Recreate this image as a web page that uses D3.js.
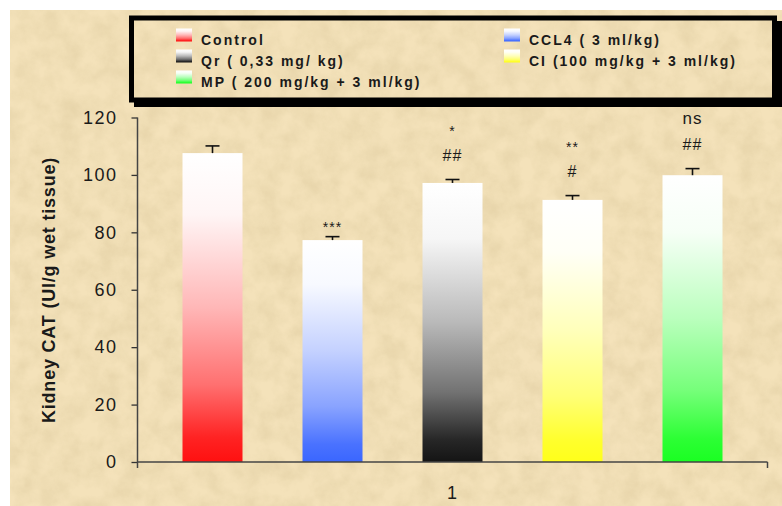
<!DOCTYPE html>
<meta charset="utf-8">
<style>
body { margin: 0; background: #fff; }
text { font-family: Arial, "Liberation Sans", sans-serif; fill: #1a1a1a; }
.legend text { font-weight: bold; font-size: 14px; letter-spacing: 2px; }
.tick text { font-size: 18px; letter-spacing: 1.5px; }
</style>
<svg width="782" height="506"></svg>
<script src="https://d3js.org/d3.v7.min.js"></script>
<script>

// data
var groups = ["Control", "CCL4 ( 3 ml/kg)", "Qr ( 0,33 mg/ kg)", "CI (100 mg/kg + 3 ml/kg)", "MP ( 200 mg/kg + 3 ml/kg)"];
var means = [107.6, 77.3, 97.2, 91.3, 99.9];
var errors = [2.5, 1.2, 1.2, 1.5, 2.3];
var colors = ["#ff1010", "#3a66ff", "#141414", "#ffff1a", "#1aff22"];
var starLabels = ["", "***", "*", "**", "ns"];
var hashLabels = ["", "", "##", "#", "##"];
var yTicks = [0, 20, 40, 60, 80, 100, 120];
var legendOrder = [0, 1, 2, 3, 4];   // left col: 0,2,4  right col: 1,3

var svg = d3.select("svg");
var defs = svg.append("defs");

// parchment texture
var f = defs.append("filter").attr("id", "paper")
    .attr("x", 0).attr("y", 0).attr("width", "100%").attr("height", "100%");
f.append("feTurbulence").attr("type", "fractalNoise")
    .attr("baseFrequency", "0.05").attr("numOctaves", 5).attr("seed", 3);
f.append("feColorMatrix").attr("type", "matrix")
    .attr("values", "0 0 0 0 0.6  0 0 0 0 0.48  0 0 0 0 0.25  0 0 0 -1 0.7");
f.append("feComposite").attr("in2", "SourceGraphic").attr("operator", "in");

svg.append("rect").attr("x", 10).attr("y", 10).attr("width", 772).attr("height", 496)
    .attr("fill", "#f4e2ba");
svg.append("rect").attr("x", 10).attr("y", 10).attr("width", 772).attr("height", 496)
    .attr("fill", "#f4e2ba").attr("filter", "url(#paper)").attr("opacity", 0.5);

// gradients: white at top to full colour at bottom
colors.forEach(function(c, i) {
  var g = defs.append("linearGradient").attr("id", "grad" + i)
      .attr("x1", 0).attr("y1", 0).attr("x2", 0).attr("y2", 1);
  var mix = d3.interpolateRgb("#ffffff", c);
  [[0, 0], [0.2, 0.04], [0.5, 0.3], [0.75, 0.6], [0.92, 0.92], [1, 1]].forEach(function(s) {
    g.append("stop").attr("offset", s[0]).attr("stop-color", mix(s[1]));
  });
});

var x = d3.scaleBand().domain(d3.range(groups.length))
    .range([137.5, 767.5]).paddingInner(0.5).paddingOuter(0.375);
var y = d3.scaleLinear().domain([0, 120]).range([462, 117.5]);

// bars
svg.append("g").selectAll("rect").data(means).join("rect")
    .attr("x", function(d, i) { return x(i); })
    .attr("y", function(d) { return y(d); })
    .attr("width", x.bandwidth())
    .attr("height", function(d) { return y(0) - y(d); })
    .attr("fill", function(d, i) { return "url(#grad" + i + ")"; });

// error bars (upper half only)
var eb = svg.append("g").attr("stroke", "#111").attr("stroke-width", 1.6);
means.forEach(function(m, i) {
  var cx = x(i) + x.bandwidth() / 2, top = y(m + errors[i]);
  eb.append("line").attr("x1", cx).attr("x2", cx).attr("y1", y(m)).attr("y2", top);
  eb.append("line").attr("x1", cx - 7).attr("x2", cx + 7).attr("y1", top).attr("y2", top);
});

// significance marks
var ann = svg.append("g").attr("text-anchor", "middle");
means.forEach(function(m, i) {
  var cx = x(i) + x.bandwidth() / 2, top = y(m + errors[i]);
  if (hashLabels[i]) {
    ann.append("text").attr("x", cx).attr("y", top - 24).attr("dy", "0.35em")
        .style("font-size", "16px").style("letter-spacing", "1px").text(hashLabels[i]);
  }
  if (starLabels[i]) {
    var off = hashLabels[i] ? 51 : 13;
    var isNs = starLabels[i] === "ns";
    ann.append("text").attr("x", cx).attr("y", top - off + (isNs ? 0 : 3)).attr("dy", "0.35em")
        .style("font-size", isNs ? "17px" : "14px").style("letter-spacing", "1px").text(starLabels[i]);
  }
});

// axes
var yAxis = svg.append("g").attr("transform", "translate(137.5,0)")
    .call(d3.axisLeft(y).tickValues(yTicks).tickSize(6).tickPadding(14).tickFormat(d3.format("d")));
yAxis.select(".domain").remove();
yAxis.selectAll("line").attr("stroke", "#333").attr("stroke-width", 1.3);
yAxis.selectAll("text").attr("fill", "#222");

var axes = svg.append("g").attr("stroke", "#444").attr("fill", "none").attr("stroke-width", 1.5);
axes.append("line").attr("x1", 137.5).attr("x2", 137.5).attr("y1", y(120)).attr("y2", 468);
axes.append("line").attr("x1", 137.5).attr("x2", 767.5).attr("y1", y(0)).attr("y2", y(0));
axes.append("line").attr("x1", 767.5).attr("x2", 767.5).attr("y1", y(0)).attr("y2", 468);

svg.append("text").attr("x", 452).attr("y", 499).attr("text-anchor", "middle")
    .style("font-size", "18px").text("1");

svg.append("text")
    .attr("transform", "translate(55,290) rotate(-90)")
    .attr("text-anchor", "middle")
    .style("font-size", "18px").style("font-weight", "bold").style("letter-spacing", "0.8px")
    .text("Kidney CAT (UI/g wet tissue)");

// legend box with drop shadow
var lg = svg.append("g").attr("class", "legend");
lg.append("path").attr("d", "M134,104.5 H779.5 V21").attr("fill", "none")
    .attr("stroke", "#000").attr("stroke-width", 5);
lg.append("rect").attr("x", 131.5).attr("y", 18).attr("width", 643).attr("height", 82)
    .attr("fill", "none").attr("stroke", "#000").attr("stroke-width", 5);

var colX = [176, 504], rowY = [44.5, 65.5, 86.5];
legendOrder.forEach(function(i) {
  var cx = colX[i % 2], ry = rowY[Math.floor(i / 2)];
  lg.append("rect").attr("x", cx).attr("y", ry - 16).attr("width", 16).attr("height", 13)
      .attr("fill", "url(#grad" + i + ")");
  lg.append("text").attr("x", cx + 25).attr("y", ry).text(groups[i]);
});

</script>
